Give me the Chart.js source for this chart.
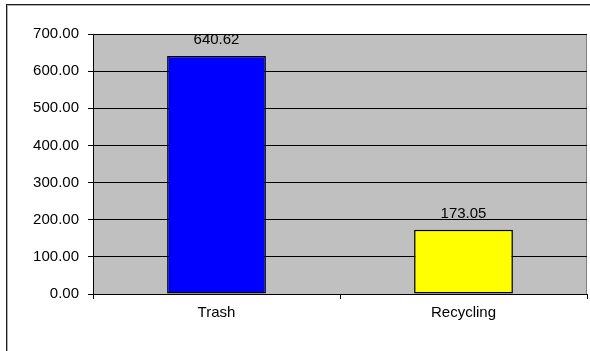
<!DOCTYPE html>
<html>
<head>
<meta charset="utf-8">
<script src="https://cdn.jsdelivr.net/npm/chart.js@4/dist/chart.umd.min.js"></script>
<style>
    html, body { margin: 0; padding: 0; background: #fff; }
    #wrap { width: 590px; height: 351px; position: relative; }
</style>
</head>
<body>
<div id="wrap"><canvas id="chart" width="590" height="351"></canvas></div>
<script>
const categories = ['Trash', 'Recycling'];
const amounts = [640.62, 173.05];
const barColors = ['#0000FF', '#FFFF00'];
const yTicks = [0, 100, 200, 300, 400, 500, 600, 700];

// gray plot background plus the frame round the whole chart
const backdrop = {
    id: 'backdrop',
    beforeDraw(chart) {
        const ctx = chart.ctx;
        const a = chart.chartArea;
        ctx.save();
        ctx.fillStyle = '#C0C0C0';
        ctx.fillRect(a.left, a.top, a.right - a.left, a.bottom - a.top);
        ctx.strokeStyle = '#808080';
        ctx.lineWidth = 1;
        ctx.beginPath();
        ctx.moveTo(a.left, a.top + 0.5);
        ctx.lineTo(a.right - 0.5, a.top + 0.5);
        ctx.lineTo(a.right - 0.5, a.bottom);
        ctx.stroke();
        ctx.strokeStyle = '#1a1a1a';
        ctx.strokeRect(6.5, 4.5, 800, 600);
        ctx.strokeStyle = '#b0b0b0';
        ctx.strokeRect(7.5, 5.5, 800, 600);
        ctx.restore();
    }
};

// value printed above each bar
const valueLabels = {
    id: 'valueLabels',
    afterDatasetsDraw(chart) {
        const ctx = chart.ctx;
        const meta = chart.getDatasetMeta(0);
        ctx.save();
        ctx.font = '15px "Liberation Sans", Arial, sans-serif';
        ctx.fillStyle = '#000';
        ctx.textAlign = 'center';
        ctx.textBaseline = 'middle';
        meta.data.forEach((bar, i) => {
            ctx.fillText(amounts[i].toFixed(2), bar.x, bar.y - 16);
        });
        ctx.restore();
    }
};

const font = { family: '"Liberation Sans", Arial, sans-serif', size: 15 };

new Chart(document.getElementById('chart').getContext('2d'), {
    type: 'bar',
    data: {
        labels: categories,
        datasets: [{
            data: amounts,
            backgroundColor: barColors,
            borderColor: '#000',
            borderWidth: 1.5,
            borderSkipped: false,
            barPercentage: 0.8,
            categoryPercentage: 0.5
        }]
    },
    options: {
        responsive: false,
        animation: false,
        layout: { padding: { top: 34, right: 3, left: 0, bottom: 0 } },
        plugins: {
            legend: { display: false },
            tooltip: { enabled: false }
        },
        scales: {
            x: {
                offset: true,
                grid: {
                    offset: true,
                    drawOnChartArea: false,
                    color: '#000',
                    tickLength: 5
                },
                border: { color: '#000', width: 1 },
                ticks: { color: '#000', font: font, padding: 5 },
                afterFit(scale) { scale.height = 57; }
            },
            y: {
                min: 0,
                max: 700,
                afterBuildTicks(scale) { scale.ticks = yTicks.map(v => ({ value: v })); },
                grid: { color: '#000', tickLength: 5 },
                border: { color: '#000', width: 1 },
                ticks: {
                    color: '#000',
                    font: font,
                    padding: 9,
                    callback: v => Number(v).toFixed(2)
                },
                afterFit(scale) { scale.width = 93; }
            }
        }
    },
    plugins: [backdrop, valueLabels]
});
</script>
</body>
</html>
